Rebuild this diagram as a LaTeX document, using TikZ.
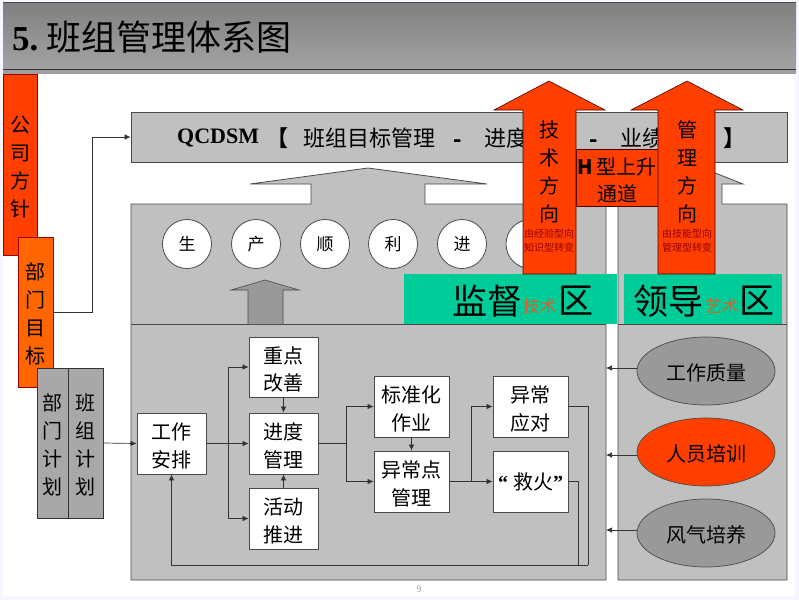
\documentclass[tikz,border=0pt]{standalone}
\usepackage{fontspec}
\setmainfont{Noto Sans CJK SC}
\newfontfamily\latinfont{Liberation Serif}
\usetikzlibrary{calc}
\usetikzlibrary{arrows.meta}
\usetikzlibrary{shapes.geometric}
\definecolor{panelgray}{HTML}{C0C0C0}
\definecolor{hotred}{HTML}{FF3F00}
\definecolor{hotorange}{HTML}{FF6600}
\definecolor{zonegreen}{HTML}{00CC99}
\definecolor{zoneorange}{HTML}{D8602A}
\definecolor{darkgray}{HTML}{999999}
\definecolor{edgegray}{HTML}{4A4A4A}
\definecolor{pagetint}{HTML}{F5F6FE}
% Tall first line, sets the text of a box a little lower
\newcommand{\dropline}{\rule{0pt}{21.5pt}}
\tikzset{
  >={Latex[length=6pt,width=5.5pt]},
  panel/.style={draw=edgegray,fill=panelgray,line width=0.8pt},
  uparrow/.style={draw=black!70!red,fill=hotred,line width=0.6pt},
  stepbox/.style={draw=edgegray,fill=white,line width=0.8pt,inner sep=0pt,align=center,font=\fontsize{20}{27.5}\selectfont},
  vertbox/.style={line width=0.6pt,inner sep=0pt,align=center,font=\fontsize{20}{28}\selectfont},
  petal/.style={circle,draw=edgegray,fill=white,line width=0.8pt,minimum size=49pt,inner sep=0pt,font=\fontsize{17}{17}\selectfont},
  oval/.style={ellipse,draw=edgegray,line width=0.7pt,minimum width=138pt,minimum height=68pt,inner sep=0pt,text height=21pt,text depth=2pt,font=\fontsize{20}{20}\selectfont},
  barlabel/.style={inner sep=0pt,font=\fontsize{22}{22}\selectfont},
  arrowlabel/.style={inner sep=0pt,align=center,font=\fontsize{20}{28}\selectfont},
  tinylabel/.style={inner sep=0pt,align=center,text=red!60!black,font=\fontsize{10}{14}\selectfont},
  zonelabel/.style={inner sep=0pt,font=\fontsize{35}{35}\selectfont},
  zonesmall/.style={inner sep=0pt,text=zoneorange,font=\fontsize{16.5}{16.5}\selectfont},
  link/.style={->,draw=black!80,line width=0.7pt},
  plainlink/.style={draw=black!80,line width=0.7pt}
}
\begin{document}
\begin{tikzpicture}[x=1pt,y=-1pt]
\useasboundingbox (0,0) rectangle (799,600);
% Page
\fill[pagetint] (0,0) rectangle (799,600);
\fill[white] (3,2) rectangle (795,596);

% Title
\fill[gray!75] (3,69) rectangle (796,74);
\shade[top color=black!50,bottom color=black!36] (3,2) rectangle (796,69);
\draw[edgegray,line width=0.7pt] (3,2) -- (796,2);
\draw[black!80,line width=0.7pt] (3,69) -- (796,69);
\node[anchor=west,inner sep=0pt,font=\fontsize{35}{35}\selectfont] (title) at (12,37) {{\latinfont\bfseries 5.} \kern-2pt 班组管理体系图};

% Left column
\node[vertbox,draw=red!60!black,fill=hotred,minimum width=34pt,minimum height=181pt] (policy) at (20,164.5) {\dropline 公\\司\\方\\针};
\node[vertbox,draw=red!60!black,fill=hotorange,minimum width=35pt,minimum height=150pt] (target) at (35.5,312) {\dropline 部\\门\\目\\标};
\node[vertbox,draw=black!80,fill=darkgray!85!white,minimum width=31pt,minimum height=150pt] (deptplan) at (52.5,443) {\dropline 部\\门\\计\\划};
\node[vertbox,draw=black!80,fill=darkgray!85!white,minimum width=35pt,minimum height=150pt] (teamplan) at (85.5,443) {\dropline 班\\组\\计\\划};

% Top bar
\node[panel,minimum width=656pt,minimum height=50pt,inner sep=0pt] (topbar) at (459,137) {};
\node[barlabel,anchor=west] (qcdsm) at (177,138) {{\latinfont\bfseries QCDSM}};
\node[barlabel] (lbracket) at (277,138) {\textbf{【}};
\node[barlabel,anchor=west] (goal) at (303,138) {班组目标管理};
\node[barlabel] (dashA) at (458,144) {\textbf{-}};
\node[barlabel,anchor=west] (progress) at (484,138) {进度};
\node[barlabel] (dashB) at (594,144) {\textbf{-}};
\node[barlabel,anchor=west] (result) at (620,138) {业绩};
\node[barlabel] (rbracket) at (734,138) {\textbf{】}};

% Gray arrows and panels
\draw[panel] (131,580) -- (131,204) -- (311,204) -- (311,184) -- (250,184) -- (368,168) -- (487,184) -- (425,184) -- (425,204) -- (606,204) -- (606,580) -- cycle;
\draw[panel] (618,580) -- (618,200) -- (660,184) -- (700,167) -- (743,184) -- (722,184) -- (722,204) -- (787,204) -- (787,580) -- cycle;
\draw[edgegray,line width=0.8pt] (131,324) -- (606,324);
\draw[edgegray,line width=0.8pt] (618,324) -- (787,324);

% Circles
\node[petal] (c1) at (187,244) {生};
\node[petal] (c2) at (256,244) {产};
\node[petal] (c3) at (325,244) {顺};
\node[petal] (c4) at (393,244) {利};
\node[petal] (c5) at (462,244) {进};
\node[petal] (c6) at (530.5,244) {};

% Small arrow
\draw[edgegray,fill=darkgray,line width=0.6pt] (248,324) -- (248,290) -- (231,290) -- (265,280) -- (299,290) -- (283,290) -- (283,324);

% Green zones
\fill[zonegreen] (404,274) rectangle (617,324);
\fill[zonegreen] (624,274) rectangle (782,324);
\node[zonelabel,anchor=west] (supervise) at (452,301) {监督};
\node[zonesmall,anchor=west] (tech) at (523,306) {技术};
\node[zonelabel,anchor=west] (zoneA) at (558,301) {区};
\node[zonelabel,anchor=west] (lead) at (633,301) {领导};
\node[zonesmall,anchor=west] (art) at (705,306) {艺术};
\node[zonelabel,anchor=west] (zoneB) at (739,301) {区};

% Red arrows
\node[draw=black!70!red,fill=hotred,line width=0.6pt,minimum width=82pt,minimum height=57pt,inner sep=0pt,align=center,font=\fontsize{20}{27}\selectfont] (channel) at (617,177.5) {\dropline {\bfseries H} 型上升\\通道};
\draw[uparrow] (523,274) -- (523,110) -- (494,110) -- (549,81) -- (605,110) -- (576,110) -- (576,274) -- cycle;
\draw[uparrow] (658,274) -- (658,110) -- (631,110) -- (687,81) -- (743,110) -- (715,110) -- (715,274) -- cycle;
\node[arrowlabel] (techdir) at (549,172) {技\\术\\方\\向};
\node[tinylabel] (technote) at (549,241) {由经验型向\\知识型转变};
\node[arrowlabel] (mgmtdir) at (687,172) {管\\理\\方\\向};
\node[tinylabel] (mgmtnote) at (687,241) {由技能型向\\管理型转变};

% Flow boxes
\node[stepbox,minimum width=69pt,minimum height=61pt] (plan) at (171.5,443.5) {\dropline 工作\\安排};
\node[stepbox,minimum width=69pt,minimum height=60pt] (focus) at (283.5,367) {\dropline 重点\\改善};
\node[stepbox,minimum width=69pt,minimum height=61pt] (track) at (283.5,443.5) {\dropline 进度\\管理};
\node[stepbox,minimum width=69pt,minimum height=61pt] (drive) at (283.5,518.5) {\dropline 活动\\推进};
\node[stepbox,minimum width=75pt,minimum height=61pt] (standard) at (411.5,406.5) {\dropline 标准化\\作业};
\node[stepbox,minimum width=75pt,minimum height=61pt] (abpoint) at (411.5,481.5) {\dropline 异常点\\管理};
\node[stepbox,minimum width=75pt,minimum height=61pt] (respond) at (530.5,406.5) {\dropline 异常\\应对};
\node[stepbox,minimum width=75pt,minimum height=61pt] (rescue) at (530.5,481.5) {{\latinfont\bfseries “}\hspace{5pt}救火{\latinfont\bfseries ”}};

% Ovals
\node[oval,fill=darkgray] (quality) at (706,371) {工作质量};
\node[oval,fill=hotred] (training) at (706,452) {人员培训};
\node[oval,fill=darkgray] (culture) at (706,533) {风气培养};

% Connectors
\coordinate (turnA) at (92,137);
\coordinate (branchA) at (228,443.5);
\coordinate (branchB) at (346,443.5);
\coordinate (branchC) at (471,481.5);
\coordinate (feedA) at (588,565);
\coordinate (feedB) at (578,565);
\coordinate (endA) at (606,368);
\coordinate (endB) at (606,455);
\coordinate (endC) at (606,530);
\draw[link] (target.east) -| (turnA) -- (topbar.west);
\draw[link] (teamplan.east) -- (plan.west);
\draw[link] (plan) -- (track);
\draw[link] (branchA) |- (focus);
\draw[link] (branchA) |- (drive);
\draw[link] (focus) -- (track);
\draw[link] (drive) -- (track);
\draw[plainlink] (track) -- (branchB);
\draw[link] (branchB) |- (standard);
\draw[link] (branchB) |- (abpoint);
\draw[link] (standard) -- (abpoint);
\draw[link] (abpoint) -- (rescue);
\draw[link] (branchC) |- (respond);
\draw[plainlink] (respond.east) -| (feedA);
\draw[plainlink] (rescue.east) -| (feedB);
\draw[link] (feedA) -| (plan.south);
\draw[link] (endA -| quality.west) -- (endA);
\draw[link] (endB -| training.west) -- (endB);
\draw[link] (endC -| culture.west) -- (endC);

% Page number
\node[inner sep=0pt,text=black!35,font=\fontsize{9}{9}\selectfont] (pagenum) at (419,589) {9};
\end{tikzpicture}
\end{document}
